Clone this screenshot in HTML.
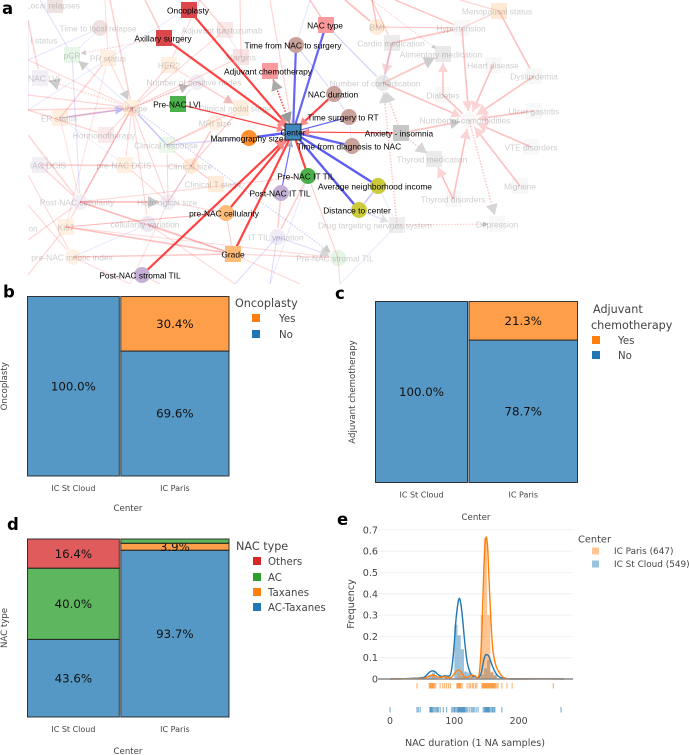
<!DOCTYPE html>
<html>
<head>
<meta charset="utf-8">
<title>Center comparison figure</title>
<style>
html,body{margin:0;padding:0;background:#fff}
svg{display:block}
text{font-family:"DejaVu Sans","Liberation Sans",sans-serif}
.net text{font-family:"Liberation Sans",sans-serif;font-size:8.4px;text-anchor:middle;dominant-baseline:central}
.panel{font-family:"DejaVu Sans",sans-serif;font-weight:bold;font-size:16.5px;fill:#000}
</style>
</head>
<body>
<svg id="fig" xmlns="http://www.w3.org/2000/svg" width="690" height="755" viewBox="0 0 690 755">
<defs><clipPath id="netclip"><rect x="28" y="0" width="662" height="284"/></clipPath></defs>
<g id="net" class="net" clip-path="url(#netclip)" style="filter:blur(.25px)"></g>
<text class="panel" x="2" y="14">a</text>
<text class="panel" x="3" y="297.5">b</text>
<text class="panel" x="335" y="299">c</text>
<text class="panel" x="7" y="530">d</text>
<text class="panel" x="337" y="525">e</text>
<g id="charts"></g>
</svg>
<script>
// ---------- chart data ----------
const centerCategories = ['IC St Cloud', 'IC Paris'];
const centerCounts = [549, 647];
const oncoplastyLevels = ['No', 'Yes'];
const oncoplastyValues = [[100.0, 0], [69.6, 30.4]];
const adjuvantLevels = ['No', 'Yes'];
const adjuvantValues = [[100.0, 0], [78.7, 21.3]];
const nacTypeLevels = ['AC-Taxanes', 'Taxanes', 'AC', 'Others'];
const nacTypeValues = [[43.6, 0, 40.0, 16.4], [93.7, 3.9, 2.4, 0]];
const freqTicks = [0, 0.1, 0.2, 0.3, 0.4, 0.5, 0.6, 0.7];
const durationTicks = [0, 100, 200];
const kdeX = [0, 20, 40, 50, 55, 60, 65, 70, 75, 80, 85, 90, 94, 97, 100, 103, 107, 110, 113, 116, 120, 124, 128, 132, 136, 139, 142, 144, 146, 148, 150, 152, 154, 157, 160, 164, 168, 172, 176, 182, 190, 210, 240, 270];
const kdeParis = [0, 0.001, 0.002, 0.003, 0.005, 0.012, 0.018, 0.016, 0.009, 0.008, 0.011, 0.009, 0.005, 0.012, 0.025, 0.035, 0.042, 0.036, 0.022, 0.010, 0.008, 0.014, 0.018, 0.015, 0.006, 0.03, 0.16, 0.33, 0.52, 0.64, 0.665, 0.61, 0.47, 0.27, 0.135, 0.07, 0.04, 0.022, 0.008, 0.002, 0.001, 0.001, 0.001, 0];
const kdeStCloud = [0, 0.001, 0.004, 0.006, 0.012, 0.028, 0.038, 0.034, 0.02, 0.012, 0.015, 0.014, 0.02, 0.07, 0.17, 0.29, 0.375, 0.355, 0.28, 0.18, 0.08, 0.035, 0.016, 0.01, 0.006, 0.01, 0.03, 0.06, 0.09, 0.11, 0.115, 0.112, 0.105, 0.08, 0.055, 0.03, 0.014, 0.007, 0.002, 0.001, 0, 0, 0.001, 0];
const histBinsStCloud = [45, 60, 65, 70, 85, 100, 105, 110, 115, 120, 125, 141, 146, 151, 156, 161];
const histValuesStCloud = [0.005, 0.018, 0.03, 0.012, 0.012, 0.255, 0.205, 0.14, 0.035, 0.03, 0.012, 0.02, 0.05, 0.09, 0.03, 0.02];
const histBinsParis = [65, 85, 105, 110, 125, 136, 141, 146, 151, 156, 161];
const histValuesParis = [0.015, 0.008, 0.03, 0.012, 0.012, 0.01, 0.3, 0.66, 0.3, 0.035, 0.015];
const rugParis = [42, 61, 62, 63, 64, 65, 66, 67, 68, 69, 71, 78, 82, 85, 88, 91, 94, 104, 105, 106, 107, 108, 109, 110, 112, 120, 123, 125, 128, 130, 133, 135, 143, 144, 145, 146, 147, 148, 149, 150, 151, 152, 153, 154, 155, 156, 157, 158, 159, 160, 161, 162, 163, 164, 166, 168, 174, 182, 190, 254];
const rugStCloud = [0, 42, 44, 47, 62, 63, 64, 65, 66, 68, 70, 72, 74, 75, 78, 83, 88, 96, 98, 100, 101, 103, 105, 106, 107, 108, 109, 110, 111, 112, 113, 114, 115, 116, 117, 119, 121, 124, 127, 129, 131, 134, 137, 145, 147, 148, 149, 150, 151, 152, 153, 154, 155, 157, 159, 160, 162, 163, 174, 266];

// ---------- network layout (node id, label, x, y, shape, colour, opacity, label dx) ----------
const networkNodes = [
['center','Center',293,132,'s','#3f87bd',1,0],
['onco','Oncoplasty',189,10,'s','#dc474b',1,-1],
['axil','Axillary surgery',164,38,'s','#dc474b',1,-1],
['nactype','NAC type',326,25,'s','#fb9a9c',1,-1],
['tns','Time from NAC to surgery',296,45,'c','#c9a29b',1,-3],
['adj','Adjuvant chemotherapy',270,71,'s','#fb9a9c',1,-2],
['dur','NAC duration',334,94,'c','#c9a29b',1,-1],
['rt','Time surgery to RT',349,117,'c','#c9a29b',1,-6],
['anx','Anxiety - insomnia',401,133,'s','#c7c7c7',1,-2],
['tdn','Time from diagnosis to NAC',352,146,'c','#c9a29b',1,-3],
['inc','Average neighborhood income',378,186,'c','#cbcb3c',1,-3],
['dist','Distance to center',359,210,'c','#cbcb3c',1,-2],
['ittil','Pre-NAC IT TIL',308,176,'c','#4cb04c',1,-2],
['pittil','Post-NAC IT TIL',281,193,'c','#c5b0d5',1,-1],
['mam','Mammography size',249,138,'c','#ff8f2e',1,-2],
['lvi','Pre-NAC LVI',178,104,'s','#4cb04c',1,-1],
['cell','pre-NAC cellularity',226,213,'c','#ffbb78',1,-2],
['grade','Grade',233,254,'s','#ffbb78',1,0],
['stro','Post-NAC stromal TIL',142,275,'c','#c5b0d5',1,-2],
['loc','Local relapses',55,5,'s','#c9a29b',.3,-2],
['ttl','Time to local relapse',100,28,'c','#c9a29b',.3,-2],
['nst','l status',44,40,'n','#fff',.3,0],
['pcr','pCR',72,55,'s','#9edc9e',.25,0],
['pr','PR status',108,58,'s','#ffbb78',.22,0],
['her','HER2',169,65,'s','#ffbb78',.22,0],
['mar','Margins',241,57,'s','#e39a9a',.28,0],
['tra','Adjuvant trastuzumab',225,30,'s','#e39a9a',.22,-3],
['npn','Number of positive nodes',197,82,'c','#c5b0d5',.2,-3],
['nlvi','NAC LVI',40,78,'s','#c5b0d5',.2,4],
['sub','Subtype',132,108,'s','#ffbb78',.22,0],
['er','ER status',60,118,'s','#ffbb78',.22,-1],
['cns','Clinical nodal stage',241,108,'s','#ffbb78',.25,-6],
['mri','MRI size',215,123,'c','#ffbb78',.2,0],
['hor','Hormonotherapy',106,135,'s','#e39a9a',.2,-2],
['cr','Clinical response',167,145,'s','#9edc9e',.2,-1],
['cs','Clinical size',191,166,'c','#ffbb78',.28,-1],
['dcis','pre-NAC DCIS',125,165,'s','#ffbb78',.22,-1],
['idc','IAC DCIS',40,165,'s','#c5b0d5',.2,8],
['cts','Clinical T stage',216,184,'s','#ffbb78',.28,-3],
['pnc','Post-NAC cellularity',80,202,'c','#c5b0d5',.2,-3],
['hs','Histological size',168,202,'c','#c5b0d5',.2,-1],
['cv','cellularity variation',148,224,'c','#c5b0d5',.3,-3],
['ki','Ki67',66,227,'s','#ffbb78',.2,0],
['on','on',33,228,'n','#fff',.25,0],
['itv','IT TIL variation',277,237,'c','#c5b0d5',.25,-1],
['mit','pre-NAC mitotic index',73,257,'c','#ffbb78',.18,-1],
['pst','Pre-NAC stromal TIL',338,258,'c','#9edc9e',.28,-3],
['bmi','BMI',377,27,'c','#ffbb78',.28,0],
['car','Cardio medication',392,43,'s','#c7c7c7',.35,-1],
['ali','Alimentary medication',443,54,'s','#c7c7c7',.4,-2],
['hyp','Hypertension',462,28,'s','#c7c7c7',.12,-1],
['men','Menopausal status',499,11,'s','#ffbb78',.3,-2],
['hea','Heart disease',493,65,'s','#c7c7c7',.12,0],
['dys','Dyslipidemia',534,76,'s','#c7c7c7',.12,0],
['com','Number of comedication',383,83,'c','#c7c7c7',.4,-8],
['dia','Diabetes',443,95,'s','#c7c7c7',.12,0],
['cmb','Number of comorbidities',469,120,'c','#c7c7c7',.12,-4],
['ulc','Ulcer gastritis',534,111,'s','#c7c7c7',.12,0],
['vte','VTE disorders',531,147,'s','#c7c7c7',.12,0],
['thm','Thyroid medication',434,159,'s','#c7c7c7',.35,-2],
['mig','Migraine',520,186,'s','#c7c7c7',.12,0],
['thd','Thyroid disorders',453,199,'s','#c7c7c7',.12,0],
['dep','Depression',497,224,'s','#c7c7c7',.12,0],
['drg','Drug targeting nervous system',397,225,'s','#c7c7c7',.3,-22]
];
const anchorPoints = {a1:[28,20],a2:[28,60],a3:[28,95],a4:[28,110],a5:[28,135],a6:[28,175],a7:[28,205],a8:[28,240],a9:[40,0],a10:[105,0],a11:[145,0],a12:[110,0],a13:[200,0],a14:[240,0],a15:[270,0],a16:[310,0],a17:[345,0],a18:[395,0],a19:[415,0],a20:[460,0],a21:[130,284],a22:[235,284],a23:[270,284],a24:[340,284],a25:[160,284],a26:[28,275],a27:[300,284],a28:[372,0]};
// from, to, colour r/b/g, width, opacity, dotted, arrow size, arrow colour
const networkEdges = [
['a1','a4','b',1,.16],['a9','pcr','b',1,.18],['a3','sub','r',1.3,.2],['a4','sub','r',1.5,.2],['a5','pnc','r',1.5,.2],
['a2','sub','r',1,.2],['a6','mit','r',1,.2],['a7','mit','r',1,.2],['a2','ttl','b',1,.15],['a1','nlvi','r',1.5,.2],
['a10','pr','r',1,.18],['a11','axil','r',1.5,.25],['a12','sub','r',1.5,.22],['ttl','pcr','b',1,.2,1],['axil','pcr','r',1,.25,1,5,'#ccc'],
['sub','npn','r',1.5,.25,1,9,'#bbb'],['sub','er','r',2,.22],['sub','pnc','r',1.5,.22],['sub','hs','r',1,.22],['sub','cv','r',1,.22],['sub','dcis','r',1,.2],['sub','ki','r',1,.22],
['sub','pcr','b',1,.15,0,9,'#ccc'],['sub','nlvi','r',1.5,.2,1,11,'#ccc'],['sub','cr','b',1,.1],['lvi','npn','b',1,.15],['her','sub','r',1.2,.2],['npn','sub','r',1,.15],
['pr','sub','r',1,.2,0,9,'#ccc'],['er','sub','b',1,.3,0,8,'#c5c5ff'],['er','pr','r',1.5,.2],['ki','pr','r',1,.15],['er','pnc','r',1,.15],['pcr','pnc','b',1,.18],
['hor','sub','r',1,.2],['er','dcis','b',.8,.12],['a4','hor','r',1.4,.2],['idc','pnc','r',1.4,.2],['idc','dcis','r',1,.2],['idc','cs','r',1,.2],
['pnc','hs','r',2,.25,0,11,'#ccc'],['pnc','cv','r',1,.2],['pnc','grade','r',1.5,.25],['pnc','ittil','r',1,.2],['ki','grade','r',1.6,.3],['ki','cell','r',1,.18],['ki','pst','r',1,.18],['mit','grade','r',1.6,.25],['mit','a21','r',1,.18],['cv','grade','r',1.4,.2],
['mit','cv','b',.8,.15],['a8','pnc','r',1.2,.2],['a26','ki','r',1.2,.2],['hs','cs','r',1.2,.25],['hs','cr','r',1,.2],['hs','dcis','r',1,.2],['cs','cts','r',1.2,.25],['cs','cr','r',1,.2],['cs','mri','r',1.5,.25],['cs','cns','r',1.2,.25],['cr','mri','r',1,.2],['cr','sub','b',1.6,.25],['cr','mam','b',1.6,.2],['cr','cns','r',1.2,.2],['cs','hs','b',.8,.12],
['sub','pst','b',1,.3,1,8,'#ccc'],['a13','her','r',1,.2],['her','npn','r',1,.2],['npn','cns','r',1.4,.25,0,9,'#f4b8b8'],['tra','a13','r',1.4,.2],['mar','a14','r',1.2,.2],['tra','mar','b',.8,.15],['tra','sub','r',1,.2],['sub','mar','r',1.2,.2],
['a13','a4','b',1,.12],['a15','center','r',1.2,.2],['tns','dur','b',1.2,.2],['nactype','a16','r',1.4,.3],['nactype','com','b',1.2,.25],['dur','rt','b',1.2,.2],['tdn','rt','b',.8,.15],['inc','dist','b',1.4,.25],
['a16','tns','b',1,.15],['a17','bmi','r',1.8,.3],['bmi','a28','r',1.4,.3],['a28','car','r',1.2,.25],['a28','ali','r',1,.25,1,4,'#ccc'],['a18','hyp','r',1.4,.3],['men','a20','r',1.2,.2],
['hyp','men','r',1.4,.2],['men','dys','r',1.6,.3],['bmi','hyp','r',1.2,.25],['car','hyp','r',1.8,.28],['car','com','r',1.8,.28,0,10,'#fbd5d5'],['com','ali','r',1.8,.28,0,11,'#ccc'],['dia','ali','r',1.6,.28,0,9,'#fbd5d5'],['hyp','cmb','r',1.6,.3,0,10,'#fbd5d5'],['hea','cmb','r',1.6,.3,0,10,'#fbd5d5'],['dys','cmb','r',1.6,.3,0,11,'#fbd5d5'],['ulc','cmb','r',1.6,.3,0,10,'#fbd5d5'],['vte','cmb','r',1.6,.3,0,10,'#fbd5d5'],['mig','cmb','r',1.6,.3,0,10,'#fbd5d5'],['thd','cmb','r',1.6,.3,0,10,'#fbd5d5'],['thd','thm','r',1.6,.3,0,10,'#fbd5d5'],['dia','cmb','r',1.6,.3],['com','cmb','r',1.6,.3,0,9,'#fbd5d5'],['anx','cmb','r',1.6,.3,0,10,'#ccc'],
['anx','com','r',1.4,.3,1,11,'#d6d6d6'],['anx','thm','r',1.4,.3,1,11,'#d6d6d6'],['drg','com','r',1.4,.3,1,11,'#d6d6d6'],['cmb','dep','r',1.4,.3,1,11,'#d6d6d6'],['drg','dep','r',1.2,.25,1,5,'#ccc'],['com','car','b',1.6,.14],
['inc','drg','b',1,.12,0,0],['dist','inc','b',1,.15],['dist','drg','b',1,.2,0,8,'#e0e0e0'],['drg','a24','b',1,.12],['ittil','itv','r',1.4,.25],['pittil','itv','r',1.4,.25],['cell','grade','r',1,.25],['cell','ki','r',1,.2],['itv','a23','b',1,.2],['itv','a22','b',1,.2],['itv','pst','b',1,.2,0,9,'#d6d6d6'],['pst','ittil','r',1,.25],
['cell','hs','r',1,.2],['grade','a27','r',1,.2],['stro','a25','r',1,.2],['pst','a24','r',1,.2],['grade','pst','r',1.2,.2],['cv','a22','r',1,.2],['hs','a21','r',1,.16],['ittil','a23','b',1,.12],
['dist','center','b',2.4,.9],['inc','center','b',2.4,.9],['tdn','center','b',2.4,.85],['mam','center','b',2.4,.9],['tns','center','b',2.2,.85],['nactype','center','b',2.2,.85],['rt','center','b',1.2,.85],['pittil','center','b',1.2,.8,0,6,'#aab'],
['onco','center','r',2.2,.9,0,8,'#fa8888'],['axil','center','r',2.2,.9,0,8,'#fa8888'],['lvi','center','r',1.2,.9,0,7,'#fa8888'],['anx','center','r',1.2,.9,0,7,'#fa8888'],['dur','center','r',2.2,.9,0,8,'#fa8888'],['ittil','center','r',2.2,.9,0,0],['cell','center','r',2.2,.9,0,0],['grade','center','r',2.2,.9,0,0],['stro','center','r',2.2,.9,0,11,'#fa8888'],
['adj','center','r',1.6,.9,1,0],['center','adj','r',0,0,0,11,'#aaa'],['adj','center','r',0,0,0,11,'#999']
];

const NS = 'http://www.w3.org/2000/svg';
function mk(parent, tag, attrs, txt){
  const e = document.createElementNS(NS, tag);
  for (const k in attrs) e.setAttribute(k, attrs[k]);
  if (txt !== undefined) e.textContent = txt;
  parent.appendChild(e);
  return e;
}
function slug(s){ return String(s).toLowerCase().replace(/[^a-z0-9]+/g,'-').replace(/^-|-$/g,''); }

// ---------- network ----------
const net = document.getElementById('net');
const pos = Object.assign({}, anchorPoints);
networkNodes.forEach(function(n){ pos[n[0]] = [n[2], n[3]]; });
const edgeCol = {r:'#ff2f2f', b:'#4a4af5'};
networkEdges.forEach(function(ed){
  const p = pos[ed[0]], q = pos[ed[1]];
  const dx = q[0]-p[0], dy = q[1]-p[1], len = Math.hypot(dx,dy);
  if (!len) return;
  const ux = dx/len, uy = dy/len;
  const arrow = ed[6] || 0;
  const endGap = (ed[1]==='center') ? 9 : (ed[1] in anchorPoints ? 0 : 9);
  const ex = q[0]-ux*endGap, ey = q[1]-uy*endGap;
  if (ed[3] > 0){
    const l = mk(net,'line',{x1:p[0],y1:p[1],x2:ex,y2:ey,stroke:edgeCol[ed[2]],'stroke-width':ed[3],'stroke-opacity':ed[4]});
    if (ed[5]) l.setAttribute('stroke-dasharray','1.5 1.5');
    
    
  }
  if (arrow){
    const nx = -uy, ny = ux, s = arrow;
    const bx = ex-ux*s, by = ey-uy*s;
    const pts = [ex,ey,bx+nx*s*.55,by+ny*s*.55,bx-nx*s*.55,by-ny*s*.55].map(function(v){return v.toFixed(1);}).join(' ');
    const t = mk(net,'polygon',{points:pts,fill:ed[7]||'#ccc'});
    
    
  }
});
networkNodes.forEach(function(n){
  const g = mk(net,'g',{opacity:n[6]});
  
  
  if (n[4]==='s'){
    const r = mk(g,'rect',{x:n[2]-8,y:n[3]-8,width:16,height:16,fill:n[5]});
    if (n[0]==='center'){ r.setAttribute('stroke','#222'); r.setAttribute('stroke-width','1'); }
  } else if (n[4]==='c'){
    mk(g,'circle',{cx:n[2],cy:n[3],r:8,fill:n[5]});
  }
});
networkNodes.forEach(function(n){
  const op = n[6] >= 1 ? 1 : .2;
  const t = mk(net,'text',{x:n[2]+n[7],y:n[3]+.5,fill:'#000',opacity:op},n[1]);
  
  
});

// ---------- mosaics ----------
const charts = document.getElementById('charts');
const palette = {'No':'#1f77b4','Yes':'#ff7f0e','AC-Taxanes':'#1f77b4','Taxanes':'#ff7f0e','AC':'#2ca02c','Others':'#d62728'};
function mosaic(cfg){
  const g = mk(charts,'g',{});
  
  
  const gap = 1.5, total = centerCounts[0]+centerCounts[1];
  const W = cfg.x1-cfg.x0-gap;
  const H = cfg.y1-cfg.y0;
  const yAt = function(pct){ return cfg.y1 - pct/100*H; };
  let xc = cfg.x0;
  cfg.values.forEach(function(col,ci){
    const w = W*centerCounts[ci]/total;
    let cum = 0;
    col.forEach(function(v,li){
      if (v <= 0) return;
      const top = yAt(cum+v), bot = yAt(cum);
      const r = mk(g,'rect',{x:xc,y:top,width:w,height:bot-top,fill:palette[cfg.levels[li]],'fill-opacity':.76,stroke:'#222','stroke-width':1,'stroke-opacity':.9});
      
      
      if (v >= 3){
        const t = mk(g,'text',{x:xc+w/2,y:(top+bot)/2+4.2,'text-anchor':'middle','font-size':11.8,fill:'#111'},v.toFixed(1)+'%');
        
        
      }
      cum += v;
    });
    const tick = mk(g,'text',{x:xc+w/2,y:cfg.y1+cfg.tickDy,'text-anchor':'middle','font-size':8,fill:'#444'},centerCategories[ci]);
    
    
    xc += w+gap;
  });
  const yt = mk(g,'text',{transform:'translate('+cfg.ytx+','+((cfg.y0+cfg.y1)/2)+') rotate(-90)','text-anchor':'middle','font-size':8.6,fill:'#444'},cfg.ytitle);
  
  
  const xt = mk(g,'text',{x:cfg.xtx,y:cfg.xty,'text-anchor':'middle','font-size':8.6,fill:'#444'},'Center');
  
  
  cfg.legendTitle.forEach(function(s){
    const t = mk(g,'text',{x:s[1],y:s[2],'font-size':11.2,fill:'#444'},s[0]);
    
    
  });
  cfg.legend.forEach(function(l){
    const s = mk(g,'rect',{x:cfg.swX,y:l[1]-4,width:8,height:8,fill:palette[l[0]]});
    
    
    const t = mk(g,'text',{x:cfg.lblX,y:l[1]+3.8,'font-size':10.2,fill:'#444'},l[0]);
    
    
  });
}
mosaic({name:'oncoplasty-mosaic',x0:27.5,x1:229,y0:296.5,y1:476,values:oncoplastyValues,levels:oncoplastyLevels,tickDy:15,ytitle:'Oncoplasty',ytx:7,xtx:128,xty:511,
  legendTitle:[['Oncoplasty',235,307]],legend:[['Yes',318],['No',334]],swX:252,lblX:279});
mosaic({name:'adjuvant-mosaic',x0:375.5,x1:577.5,y0:301.5,y1:482.5,values:adjuvantValues,levels:adjuvantLevels,tickDy:15,ytitle:'Adjuvant chemotherapy',ytx:355,xtx:476,xty:520,
  legendTitle:[['Adjuvant',593,313],['chemotherapy',591,329]],legend:[['Yes',340],['No',355]],swX:592,lblX:618});
mosaic({name:'nac-type-mosaic',x0:27.5,x1:229,y0:539,y1:717,values:nacTypeValues,levels:nacTypeLevels,tickDy:15,ytitle:'NAC type',ytx:7,xtx:128,xty:754,
  legendTitle:[['NAC type',236,550]],legend:[['Others',561],['AC',577],['Taxanes',592],['AC-Taxanes',607]],swX:253,lblX:268});

// ---------- distribution ----------
const ex0 = 390, exPerUnit = 0.643, ey0 = 679, eyPerUnit = 213;
function X(v){ return ex0 + v*exPerUnit; }
function Y(v){ return ey0 - v*eyPerUnit; }
const dg = mk(charts,'g',{});


freqTicks.forEach(function(t){
  if (t > 0){
    const gl = mk(dg,'line',{x1:378,x2:573,y1:Y(t),y2:Y(t),stroke:'#eef1f6','stroke-width':1});
    
    
  }
  const lb = mk(dg,'text',{x:378,y:Y(t)+3.5,'text-anchor':'end','font-size':9.6,fill:'#444'},String(t));
  
  
});
function bars(bins,vals,color,name){
  bins.forEach(function(b,i){
    const r = mk(dg,'rect',{x:X(b),y:Y(vals[i]),width:5*exPerUnit,height:ey0-Y(vals[i]),fill:color,'fill-opacity':.45});
    
    
  });
}
bars(histBinsStCloud,histValuesStCloud,'#1f77b4','hist-bar-st-cloud');
bars(histBinsParis,histValuesParis,'#ff7f0e','hist-bar-paris');
function smoothPath(xs,ys){
  const P = xs.map(function(x,i){ return [X(x),Y(ys[i])]; });
  let d = 'M'+P[0][0].toFixed(2)+' '+P[0][1].toFixed(2);
  for (let i=0;i<P.length-1;i++){
    const a=P[Math.max(i-1,0)],b=P[i],c=P[i+1],e=P[Math.min(i+2,P.length-1)];
    d += ' C'+(b[0]+(c[0]-a[0])/6).toFixed(2)+' '+(b[1]+(c[1]-a[1])/6).toFixed(2)+' '+(c[0]-(e[0]-b[0])/6).toFixed(2)+' '+(c[1]-(e[1]-b[1])/6).toFixed(2)+' '+c[0].toFixed(2)+' '+c[1].toFixed(2);
  }
  return d;
}
const lineSC = mk(dg,'path',{d:smoothPath(kdeX,kdeStCloud),fill:'none',stroke:'#1f77b4','stroke-width':1.4});


const lineP = mk(dg,'path',{d:smoothPath(kdeX,kdeParis),fill:'none',stroke:'#ff7f0e','stroke-width':1.4});


const zl = mk(dg,'line',{x1:378,x2:573,y1:ey0,y2:ey0,stroke:'#888','stroke-width':1.6});


rugParis.forEach(function(v){
  const r = mk(dg,'rect',{x:X(v)-.6,y:683,width:1.2,height:5.5,fill:'#ff7f0e','fill-opacity':.55});
  
  
});
rugStCloud.forEach(function(v){
  const r = mk(dg,'rect',{x:X(v)-.6,y:707,width:1.2,height:5.5,fill:'#1f77b4','fill-opacity':.55});
  
  
});
durationTicks.forEach(function(t){
  const lb = mk(dg,'text',{x:X(t),y:724,'text-anchor':'middle','font-size':9.4,fill:'#444'},String(t));
  
  
});
const extitle = mk(dg,'text',{x:475,y:746,'text-anchor':'middle','font-size':9.6,fill:'#444'},'NAC duration (1 NA samples)');


const eytitle = mk(dg,'text',{transform:'translate(354,604) rotate(-90)','text-anchor':'middle','font-size':9.6,fill:'#444'},'Frequency');


const elt = mk(dg,'text',{x:578,y:542.5,'font-size':9.8,fill:'#444'},'Center');


[['IC Paris (647)',551,'#ff7f0e'],['IC St Cloud (549)',564,'#1f77b4']].forEach(function(l){
  const s = mk(dg,'rect',{x:592,y:l[1]-3.5,width:7,height:7,fill:l[2],'fill-opacity':.45});
  
  
  const t = mk(dg,'text',{x:614,y:l[1]+3.2,'font-size':8.9,fill:'#444'},l[0]);
  
  
});
</script>
</body>
</html>
